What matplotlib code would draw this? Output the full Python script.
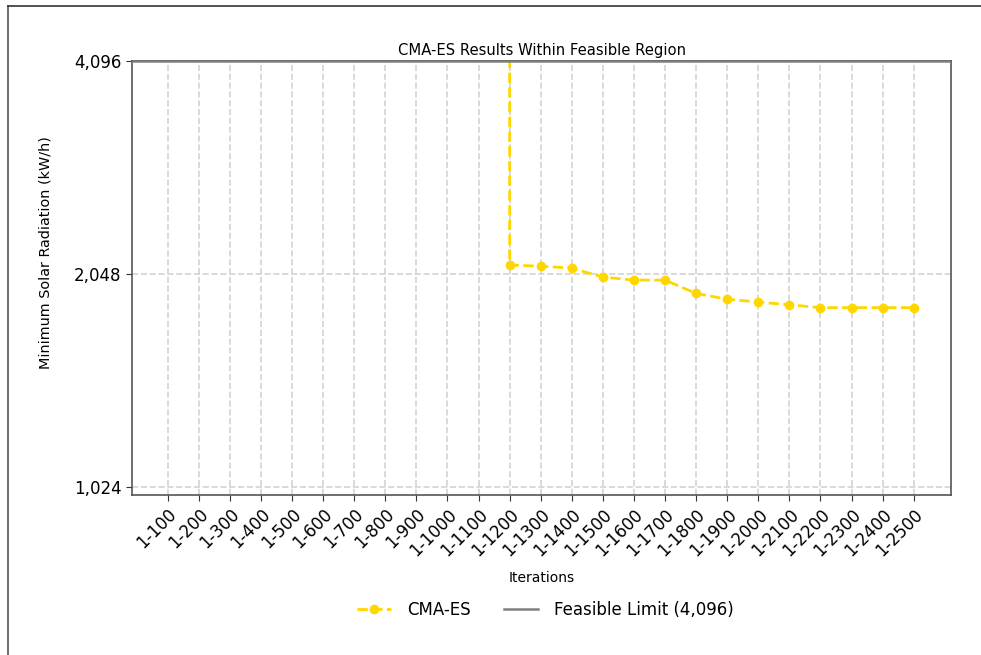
import numpy as np
import matplotlib.pyplot as plt
from matplotlib.lines import Line2D
from matplotlib.ticker import FixedLocator, FuncFormatter, NullLocator

# iteration windows
iterations = ["1-%d" % n for n in range(100, 2600, 100)]

# CMA-ES minimum solar radiation per window (nan = no feasible result yet)
cma_es = [np.nan] * 11 + [2109, 2101, 2088, 2028, 2008, 2008, 1923, 1887,
                          1870, 1853, 1836, 1836, 1836, 1836]
infeasible_value = 100000  # value before the first feasible result (off chart)
feasible_limit = 4096

y_ticks = [1024, 2048, 4096]

fig = plt.figure(figsize=(9.81, 6.55), dpi=100)
ax = fig.add_axes([132 / 981, 160 / 655, 819 / 981, 434 / 655])

idx = np.arange(len(iterations))
vals = np.array(cma_es, dtype=float)
ok = ~np.isnan(vals)
first = idx[ok][0]
xs = np.concatenate([[first], idx[ok]])
ys = np.concatenate([[infeasible_value], vals[ok]])

ax.plot(xs, ys, color="#FFD700", linestyle="--", linewidth=2, marker="o",
        markersize=6, markevery=list(range(1, len(xs))), label="CMA-ES", zorder=3)
ax.axhline(feasible_limit, color="#808080", linewidth=1.8,
           label="Feasible Limit (4,096)", zorder=4)

ax.set_yscale("log", base=2)
ax.set_ylim(998, 4096)
ax.set_xlim(-1.15, 25.2)
ax.yaxis.set_major_locator(FixedLocator(y_ticks))
ax.yaxis.set_minor_locator(NullLocator())
ax.yaxis.set_major_formatter(FuncFormatter(lambda v, p: "{:,.0f}".format(v)))
ax.set_xticks(idx)
ax.set_xticklabels(iterations, rotation=45, ha="right", rotation_mode="anchor",
                   fontsize=12)
ax.tick_params(axis="y", labelsize=12)
ax.tick_params(axis="both", color="#333333", length=4)

ax.grid(True, linestyle="--", color="#d3d3d3", linewidth=1.2)
ax.set_axisbelow(True)
for s in ax.spines.values():
    s.set_color("#555555")
    s.set_linewidth(1.2)

ax.set_title("CMA-ES Results Within Feasible Region", fontsize=10.6, pad=4)
ax.set_xlabel("Iterations", fontsize=10, labelpad=8)
ax.set_ylabel("Minimum Solar Radiation (kW/h)", fontsize=10.4)
ax.yaxis.set_label_coords(-(132 - 53) / 819, (495 - 253) / 434)

ax.legend(loc="upper center", bbox_to_anchor=(0.505, -0.21), ncol=2,
          frameon=False, fontsize=12, columnspacing=2.0, handlelength=2.0,
          handletextpad=1.0)

# border lines left over from the original crop
fig.add_artist(Line2D([8 / 981, 8 / 981], [0, 1 - 6 / 655], color="#555555", linewidth=1.2))
fig.add_artist(Line2D([8 / 981, 1], [1 - 6 / 655, 1 - 6 / 655], color="#333333", linewidth=1.2))

fig.savefig("out.png", dpi=100)
